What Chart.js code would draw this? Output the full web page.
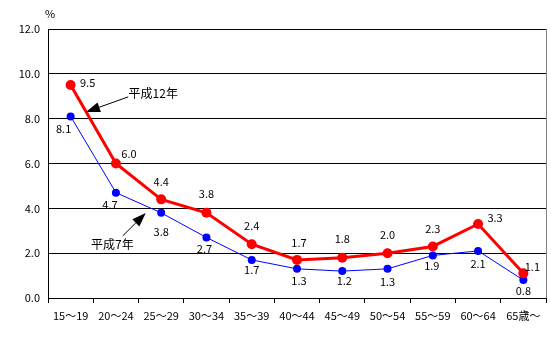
<!DOCTYPE html>
<html>
<head>
<meta charset="utf-8">
<script src="https://cdn.jsdelivr.net/npm/chart.js@4.4.1/dist/chart.umd.min.js"></script>
<style>
  html, body { margin: 0; padding: 0; background: #fff; }
  #wrap { width: 551px; height: 348px; position: relative; }
</style>
</head>
<body>
<div id="wrap"><canvas id="grafico"></canvas></div>
<script>
// 年齢階級別の数値
const categorias = ['15～19', '20～24', '25～29', '30～34', '35～39', '40～44', '45～49', '50～54', '55～59', '60～64', '65歳～'];
const h12 = [9.5, 6.0, 4.4, 3.8, 2.4, 1.7, 1.8, 2.0, 2.3, 3.3, 1.1];
const h7 = [8.1, 4.7, 3.8, 2.7, 1.7, 1.3, 1.2, 1.3, 1.9, 2.1, 0.8];

const FUENTE = '"Noto Sans CJK JP", "DejaVu Sans", sans-serif';

// desplazamiento de cada etiqueta respecto a su punto [dx, dy]
const offH12 = [[17, -2], [13, -10], [0, -18], [0, -19], [0, -18], [2, -17], [0, -19], [0, -18], [0, -18], [17, -6], [9, -7]];
const offH7 = [[-7, 12], [-6, 12], [0, 19], [-2, 11], [0, 10], [2, 12], [2, 10], [0, 13], [-1, 10], [0, 13], [0, 11]];

function flecha(ctx, x1, y1, x2, y2) {
    // línea con punta triangular rellena en (x2, y2)
    const ang = Math.atan2(y2 - y1, x2 - x1);
    const largo = 14, ancho = 5;
    const bx = x2 - largo * Math.cos(ang), by = y2 - largo * Math.sin(ang);
    ctx.strokeStyle = '#000';
    ctx.lineWidth = 1;
    ctx.beginPath();
    ctx.moveTo(x1, y1);
    ctx.lineTo(bx, by);
    ctx.stroke();
    ctx.fillStyle = '#000';
    ctx.beginPath();
    ctx.moveTo(x2, y2);
    ctx.lineTo(bx + ancho * Math.sin(ang), by - ancho * Math.cos(ang));
    ctx.lineTo(bx - ancho * Math.sin(ang), by + ancho * Math.cos(ang));
    ctx.closePath();
    ctx.fill();
}

const extras = {
    id: 'extras',
    afterDatasetsDraw(chart) {
        const ctx = chart.ctx;
        const area = chart.chartArea;
        ctx.save();
        // borde derecho gris
        ctx.strokeStyle = '#808080';
        ctx.lineWidth = 1;
        ctx.beginPath();
        ctx.moveTo(area.right + 0.5, area.top);
        ctx.lineTo(area.right + 0.5, area.bottom);
        ctx.stroke();

        ctx.font = '11px ' + FUENTE;
        ctx.fillStyle = '#000';
        ctx.textAlign = 'center';
        ctx.textBaseline = 'middle';
        // valores sobre los puntos
        [[0, h12, offH12], [1, h7, offH7]].forEach(([i, datos, off]) => {
            chart.getDatasetMeta(i).data.forEach((p, j) => {
                ctx.fillText(datos[j].toFixed(1), p.x + off[j][0], p.y + off[j][1]);
            });
        });

        // unidad
        ctx.fillText('%', area.left + 2, area.top - 15);

        // rótulos de series con flecha
        const x = chart.scales.x, y = chart.scales.y;
        ctx.font = '12px ' + FUENTE;
        ctx.textAlign = 'left';
        ctx.fillText('平成12年', x.getPixelForValue(1.28), y.getPixelForValue(9.14));
        flecha(ctx, x.getPixelForValue(1.27), y.getPixelForValue(8.97), x.getPixelForValue(0.34), y.getPixelForValue(8.3));
        ctx.fillText('平成7年', x.getPixelForValue(0.45), y.getPixelForValue(2.4));
        flecha(ctx, x.getPixelForValue(1.15), y.getPixelForValue(2.77), x.getPixelForValue(1.66), y.getPixelForValue(3.79));
        ctx.restore();
    }
};

new Chart(document.getElementById('grafico'), {
    type: 'line',
    data: {
        labels: categorias,
        datasets: [
            {
                label: '平成12年',
                data: h12,
                borderColor: '#ff0000',
                backgroundColor: '#ff0000',
                borderWidth: 3,
                pointRadius: 5,
                pointBorderWidth: 0,
                tension: 0
            },
            {
                label: '平成7年',
                data: h7,
                borderColor: '#0000ff',
                backgroundColor: '#0000ff',
                borderWidth: 1,
                pointRadius: 4,
                pointBorderWidth: 0,
                tension: 0
            }
        ]
    },
    options: {
        responsive: true,
        maintainAspectRatio: false,
        animation: false,
        layout: { padding: { top: 29, right: 3, left: 0, bottom: 0 } },
        plugins: {
            legend: { display: false },
            tooltip: { enabled: false }
        },
        scales: {
            x: {
                offset: true,
                grid: {
                    offset: true,
                    drawOnChartArea: false,
                    color: '#000',
                    tickLength: 5,
                    tickColor: '#000'
                },
                border: { color: '#000', width: 1 },
                ticks: {
                    color: '#000',
                    font: { size: 11, family: FUENTE },
                    padding: 6,
                    maxRotation: 0,
                    autoSkip: false
                },
                afterFit(scale) { scale.height = 50; }
            },
            y: {
                min: 0,
                max: 12,
                ticks: {
                    stepSize: 2,
                    color: '#000',
                    font: { size: 11, family: FUENTE },
                    padding: 8,
                    callback: v => v.toFixed(1)
                },
                grid: {
                    color: '#000',
                    drawTicks: false
                },
                border: { color: '#000', width: 1 },
                afterFit(scale) { scale.width = 48; }
            }
        }
    },
    plugins: [extras]
});
</script>
</body>
</html>
